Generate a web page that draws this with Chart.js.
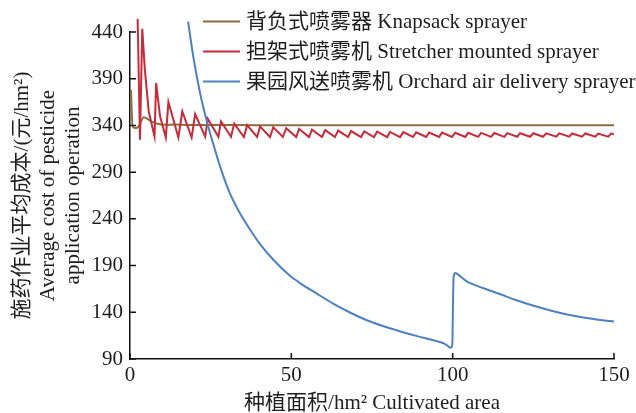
<!DOCTYPE html>
<html>
<head>
<meta charset="utf-8">
<title>施药作业平均成本</title>
<script src="https://cdn.jsdelivr.net/npm/chart.js@4.4.1/dist/chart.umd.min.js"></script>
<style>
  html, body { margin: 0; padding: 0; background: #fff; }
  #wrap { width: 636px; height: 413px; }
</style>
</head>
<body>
<div id="wrap"><canvas id="chart" width="636" height="413"></canvas></div>
<script>
// ---- data ----
const seriesNames = [
  '背负式喷雾器 Knapsack sprayer',
  '担架式喷雾机 Stretcher mounted sprayer',
  '果园风送喷雾机 Orchard air delivery sprayer'
];
const seriesColors = ['#8c6d3f', '#c62b3a', '#4e81be'];

const xTicks = [0, 50, 100, 150];
const yTicks = [90, 140, 190, 240, 290, 340, 390, 440];

// Knapsack sprayer
const knapX = [0.3, 0.8, 1.6, 2.6, 4.3, 6.7, 8.8, 11.2, 14, 18, 25, 40, 70, 100, 130, 150];
const knapY = [378, 339, 337.2, 338.6, 348.8, 344, 341.6, 340.6, 340.9, 340.4, 340.5, 340.3, 340.3, 340.3, 340.3, 340.3];

// Stretcher mounted sprayer (sawtooth)
const stretchX = [2.3, 3.1, 3.8, 4.6, 5.8, 7.6, 8.1, 9.3, 11.1, 11.9, 15.0, 16.2, 19.1, 20.2, 23.3, 24.1,
  27.4, 28.2, 31.3, 32.3, 35.3, 36.3, 39.4, 40.3, 43.4, 44.4, 47.4, 48.4, 51.5, 52.4, 55.5, 56.4,
  59.5, 60.5, 63.5, 64.5, 67.6, 68.5, 71.6, 72.6, 75.6, 76.6, 79.7, 80.6, 83.7, 84.7, 87.7, 88.7,
  91.8, 92.7, 95.8, 96.7, 99.8, 100.8, 103.9, 104.8, 107.9, 108.8, 111.9, 112.9, 116.0, 116.9,
  120.0, 120.9, 124.0, 125.0, 128.0, 129.0, 132.1, 133.0, 136.1, 137.0, 140.1, 141.1, 144.2, 145.1,
  148.2, 149.1, 150.0];
const stretchY = [466, 324.6, 443.5, 400, 355, 328.2, 385.3, 350, 327.1, 365, 327.1, 355, 327.1, 352.1, 328, 347.1,
  327.8, 344.2, 327.8, 342, 327.6, 340.3, 327.6, 339, 327.6, 338, 327.6, 337, 327.6, 336.2, 327.6, 335.5,
  327.6, 335, 327.5, 334.5, 327.5, 334, 327.5, 333.6, 327.5, 333.3, 327.5, 333, 327.5, 332.8, 327.6, 332.6,
  327.6, 332.4, 327.6, 332.3, 327.7, 332.2, 327.7, 332.1, 327.8, 332, 327.8, 331.9, 327.8, 331.8,
  327.9, 331.7, 327.9, 331.6, 327.9, 331.5, 328, 331.5, 328, 331.4, 328, 331.4, 328, 331.3,
  328, 331.3, 330.5];

// Orchard air delivery sprayer
const orchardX = [18.0, 19.6, 21.7, 24.3, 25.9, 28.5, 31.0, 33.6, 36.2, 40.3, 44.5, 49.6, 52.8, 57.9,
  63.1, 68.3, 73.4, 78.6, 83.8, 89.0, 95.7, 97.7, 99.4, 99.9, 100.1, 100.3, 100.8, 101.6, 104.4,
  109.6, 114.8, 120.0, 125.1, 130.3, 135.5, 140.6, 145.8, 150.0];
const orchardY = [451, 414, 375, 338, 319, 290, 267, 249, 234, 213, 196, 179, 171, 160,
  149, 139.5, 131.5, 125, 119.5, 114.5, 108.5, 106, 102.1, 106, 150, 178, 182, 180.5, 173,
  165.7, 159.3, 152.6, 147, 142, 137.7, 134.4, 131.8, 130];

const FONT = '"Liberation Serif", "Noto Sans CJK SC", serif';
const TEXT = '#1e1e1e';

function toPoints(xs, ys) {
  return xs.map((x, i) => ({ x: x, y: ys[i] }));
}

// tick marks pointing into the plot
const inwardTicks = {
  id: 'inwardTicks',
  afterDraw(chart) {
    const ctx = chart.ctx;
    const xs = chart.scales.x, ys = chart.scales.y;
    const area = chart.chartArea;
    ctx.save();
    ctx.strokeStyle = '#111';
    ctx.lineWidth = 1.5;
    ctx.beginPath();
    xs.ticks.forEach(t => {
      const px = xs.getPixelForValue(t.value);
      ctx.moveTo(px, area.bottom);
      ctx.lineTo(px, area.bottom - 6);
    });
    ys.ticks.forEach(t => {
      const py = ys.getPixelForValue(t.value);
      ctx.moveTo(area.left, py);
      ctx.lineTo(area.left + 6, py);
    });
    ctx.stroke();
    ctx.restore();
  }
};

// legend inside the plot, top right
const innerLegend = {
  id: 'innerLegend',
  afterDraw(chart) {
    const ctx = chart.ctx;
    const area = chart.chartArea;
    const x0 = area.left + 73;
    ctx.save();
    ctx.font = '21px ' + FONT;
    ctx.textBaseline = 'middle';
    chart.data.datasets.forEach((ds, i) => {
      const y = area.top - 10.5 + i * 30;
      ctx.strokeStyle = ds.borderColor;
      ctx.lineWidth = 2;
      ctx.beginPath();
      ctx.moveTo(x0, y);
      ctx.lineTo(x0 + 37, y);
      ctx.stroke();
      ctx.fillStyle = TEXT;
      ctx.fillText(ds.label, x0 + 43, y + 1);
    });
    ctx.restore();
  }
};

const lineClip = { left: 0, top: 13, right: 0, bottom: 0 };

new Chart(document.getElementById('chart'), {
  type: 'line',
  data: {
    datasets: [
      {
        label: seriesNames[0],
        data: toPoints(knapX, knapY),
        borderColor: seriesColors[0],
        borderWidth: 2,
        pointRadius: 0,
        cubicInterpolationMode: 'monotone',
        clip: lineClip,
        order: 3
      },
      {
        label: seriesNames[1],
        data: toPoints(stretchX, stretchY),
        borderColor: seriesColors[1],
        borderWidth: 2,
        pointRadius: 0,
        tension: 0,
        clip: lineClip,
        order: 2
      },
      {
        label: seriesNames[2],
        data: toPoints(orchardX, orchardY),
        borderColor: seriesColors[2],
        borderWidth: 2,
        pointRadius: 0,
        cubicInterpolationMode: 'monotone',
        clip: lineClip,
        order: 1
      }
    ]
  },
  options: {
    responsive: false,
    animation: false,
    layout: { padding: { left: 0, top: 32, right: 22, bottom: 0 } },
    plugins: {
      legend: { display: false },
      tooltip: { enabled: false }
    },
    scales: {
      x: {
        type: 'linear',
        min: 0,
        max: 150,
        afterBuildTicks: s => { s.ticks = xTicks.map(v => ({ value: v })); },
        afterFit: s => { s.height = 54; },
        grid: { drawOnChartArea: false, drawTicks: false },
        border: { display: true, color: '#111', width: 1.5 },
        ticks: {
          font: { family: FONT, size: 21 },
          color: TEXT,
          padding: 4,
          maxRotation: 0
        },
        title: {
          display: true,
          text: '种植面积/hm² Cultivated area',
          font: { family: FONT, size: 21, lineHeight: 1 },
          color: TEXT,
          padding: { top: 0, bottom: -1 }
        }
      },
      y: {
        type: 'linear',
        min: 90,
        max: 440,
        afterBuildTicks: s => { s.ticks = yTicks.map(v => ({ value: v })); },
        afterFit: s => { s.width = 130; },
        grid: { drawOnChartArea: false, drawTicks: false },
        border: { display: true, color: '#111', width: 1.5 },
        ticks: {
          font: { family: FONT, size: 21 },
          color: TEXT,
          padding: 7
        },
        title: {
          display: true,
          text: ['施药作业平均成本/(元/hm²)', 'Average cost of pesticide', 'application operation'],
          font: { family: FONT, size: 21, lineHeight: 1.214 },
          color: TEXT,
          padding: { top: 10, bottom: 0 }
        }
      }
    }
  },
  plugins: [inwardTicks, innerLegend]
});
</script>
</body>
</html>
